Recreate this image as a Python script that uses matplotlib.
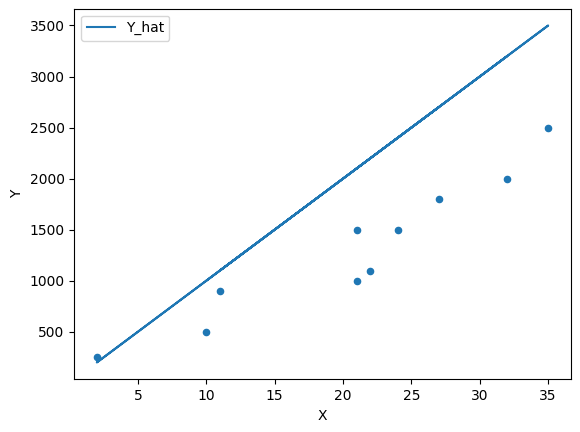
import matplotlib
matplotlib.use("Agg")
import matplotlib.pyplot as plt

x = [10, 35, 2, 22, 27, 11, 21, 32, 24, 21]
y = [500, 2500, 250, 1100, 1800, 900, 1000, 2000, 1500, 1500]
y_hat = [1000, 3500, 200, 2200, 2700, 1100, 2100, 3200, 2400, 2100]

fig = plt.figure(figsize=(5.8, 4.32), dpi=100)
ax = fig.add_axes([0.128, 0.122, 0.856, 0.858])
ax.scatter(x, y, s=20, color="#1f77b4")
ax.plot(x, y_hat, color="#1f77b4", label="Y_hat")
ax.set_xlabel("X")
ax.set_ylabel("Y")
ax.legend(loc="upper left")
fig.savefig("out.png", dpi=100)
